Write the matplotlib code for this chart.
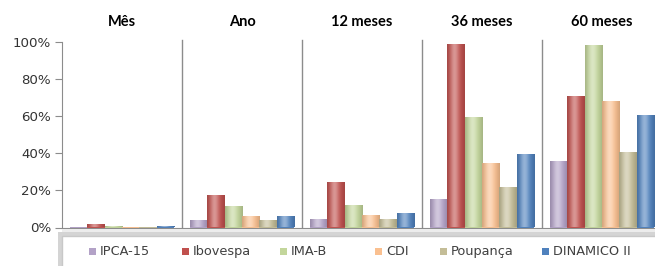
import numpy as np
import matplotlib.pyplot as plt
from matplotlib.patches import Rectangle, FancyBboxPatch
from matplotlib.colors import to_rgb


periods = ["Mês", "Ano", "12 meses", "36 meses", "60 meses"]
series = ["IPCA-15", "Ibovespa", "IMA-B", "CDI", "Poupança", "DINAMICO II"]
colors = ["#b3a2c7", "#c0504d", "#c3d69b", "#fac090", "#c4bd97", "#4f81bd"]

ipca = [0.2, 3.9, 4.5, 15.6, 35.8]
ibovespa = [1.8, 17.4, 24.6, 99.0, 71.2]
imab = [0.8, 11.5, 12.3, 59.6, 98.6]
cdi = [0.3, 6.0, 6.6, 34.9, 68.5]
poupanca = [0.3, 4.2, 4.6, 21.7, 40.6]
dinamico = [0.6, 6.4, 7.8, 39.9, 60.8]
values = [ipca, ibovespa, imab, cdi, poupanca, dinamico]

yticks = [0, 20, 40, 60, 80, 100]

W, H = 655, 266


def px(x, y):
    return x / W, 1 - y / H


def shade(color, n=40):
    # cylinder-like gradient across the bar width
    base = np.array(to_rgb(color))
    t = np.linspace(0, 1, n)
    light = np.exp(-((t - 0.42) / 0.25) ** 2)
    dark = 0.85 + 0.15 * np.sin(np.pi * t)
    rows = []
    for d, l in zip(dark, light):
        c = base * d
        c = c + (1 - c) * 0.4 * l
        rows.append(c)
    return np.array(rows)[None, :, :]


fig = plt.figure(figsize=(W / 100, H / 100), dpi=100)
ax = fig.add_axes([62 / W, (H - 227.5) / H, 600 / W, 185.2 / H])
ax.set_xlim(0, len(periods))
ax.set_ylim(0, 100)

bw = (104 / 120) / len(series)
pad = 8 / 120
for j, (vals, col) in enumerate(zip(values, colors)):
    grad = shade(col)
    for i, v in enumerate(vals):
        x0 = i + pad + j * bw
        rect = Rectangle((x0, 0), bw, v, facecolor=col, edgecolor="none")
        ax.add_patch(rect)
        im = ax.imshow(grad, extent=(x0, x0 + bw, 0, v), aspect="auto",
                       interpolation="bilinear", zorder=2)
        im.set_clip_path(rect)

for k in range(1, len(periods)):
    ax.axvline(k, ymin=0, ymax=1.01, color="#8c8c8c", lw=1.0, clip_on=False)

for s in ["top", "right"]:
    ax.spines[s].set_visible(False)
ax.spines["left"].set_color("#8c8c8c")
ax.spines["bottom"].set_color("#8c8c8c")
ax.set_xticks([])
ax.set_yticks(yticks)
ax.set_yticklabels([f"{t}%" for t in yticks], fontsize=9.6, color="#333333")
ax.tick_params(axis="y", length=5, color="#8c8c8c", pad=3)

for i, p in enumerate(periods):
    ax.text(i + 0.5, 1.0 + 16 / 185, p, transform=ax.get_xaxis_transform(),
            ha="center", va="baseline", fontsize=10.5, fontweight="bold",
            family="Lato")

# floor band under the axis
fig.patches.append(Rectangle(px(62, 233), 600 / W, 4.5 / H, transform=fig.transFigure,
                             facecolor="#ececec", edgecolor="none"))

# legend box
fig.patches.append(FancyBboxPatch(px(58, 272), 610 / W, 40 / H, transform=fig.transFigure,
                                  boxstyle="square,pad=0", facecolor="#d4d4d4",
                                  edgecolor="none"))
fig.patches.append(FancyBboxPatch(px(62, 272), 600 / W, 36 / H, transform=fig.transFigure,
                                  boxstyle="square,pad=0", facecolor="white",
                                  edgecolor="#c8c8c8", lw=1.0))

leg_x = [89, 182, 280, 375, 440, 542]
for name, col, x in zip(series, colors, leg_x):
    fig.patches.append(Rectangle(px(x, 255), 7 / W, 7 / H, transform=fig.transFigure,
                                 facecolor=col, edgecolor="none"))
    fig.text(*px(x + 11, 251.5), name, ha="left", va="center", fontsize=9.3,
             color="#404040")

fig.savefig("out.png", dpi=100)
